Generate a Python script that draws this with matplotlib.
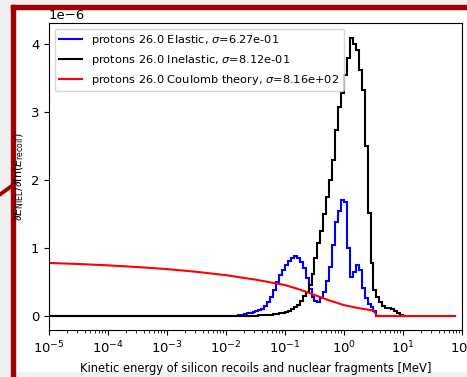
import matplotlib

matplotlib.use("Agg")
import matplotlib.pyplot as plt
import numpy as np
from matplotlib.patches import Polygon, Rectangle

# histogram bins: one zero bin from 1e-5, then 20 bins per decade from 1e-2
log_edges = np.concatenate([[-5.0], -2.0 + np.arange(0, 62) / 20.0])
edges = 10.0 ** log_edges

elastic = [
    0.0,
    0.0, 0.0, 0.0, 0.005, 0.01, 0.02, 0.03, 0.04, 0.05, 0.06,
    0.07, 0.09, 0.11, 0.14, 0.2, 0.28, 0.38, 0.5, 0.6, 0.68,
    0.75, 0.81, 0.86, 0.88, 0.85, 0.8, 0.7, 0.56, 0.4, 0.28,
    0.22, 0.21, 0.26, 0.36, 0.52, 0.72, 1.05, 1.38, 1.55, 1.71,
    1.68, 1.0, 0.57, 0.64, 0.75, 0.68, 0.41, 0.26, 0.18, 0.13,
    0.07, 0.0, 0.0, 0.0, 0.0, 0.0, 0.0, 0.0, 0.0, 0.0,
    0.0,
]
inelastic = [
    0.0,
    0.0, 0.0, 0.0, 0.0, 0.0, 0.0, 0.0, 0.0, 0.002, 0.003,
    0.005, 0.008, 0.01, 0.012, 0.015, 0.02, 0.025, 0.03, 0.04, 0.045,
    0.06, 0.08, 0.1, 0.13, 0.16, 0.22, 0.29, 0.35, 0.45, 0.62,
    0.85, 1.07, 1.25, 1.5, 1.75, 2.0, 2.3, 2.74, 3.08, 3.28,
    3.55, 3.8, 4.09, 4.0, 3.91, 3.62, 3.32, 2.5, 1.51, 0.78,
    0.38, 0.28, 0.21, 0.15, 0.12, 0.12, 0.1, 0.07, 0.05, 0.02,
    0.0,
]

coulomb_log_e = [-5, -4.5, -4, -3.5, -3, -2.5, -2, -1.5, -1, -0.75, -0.5,
                 -0.25, 0, 0.25, 0.5, 0.56, 1.88]
coulomb = [0.78, 0.765, 0.745, 0.72, 0.69, 0.65, 0.60, 0.535, 0.455, 0.39,
           0.31, 0.23, 0.16, 0.115, 0.08, 0.0, 0.0]

labels = [
    r"protons 26.0 Elastic, $\sigma$=6.27e-01",
    r"protons 26.0 Inelastic, $\sigma$=8.12e-01",
    r"protons 26.0 Coulomb theory, $\sigma$=8.16e+02",
]

W, H = 467, 377
fig = plt.figure(figsize=(W / 100, H / 100), dpi=100)
fig.patch.set_facecolor("white")


def px(x, y):
    return x / W, 1 - y / H


# screenshot frame around the chart
gray = "#f0f0f0"
frame = "#a00000"
fig.patches.append(Rectangle(px(0, H), 11 / W, 1, transform=fig.transFigure, color=gray, zorder=-3))
fig.patches.append(Rectangle(px(0, 5), 1, 5 / H, transform=fig.transFigure, color=gray, zorder=-3))
fig.patches.append(Rectangle(px(0, H), 1, 5 / H, transform=fig.transFigure, color=gray, zorder=-3))
fig.patches.append(Rectangle(px(11, H), 4 / W, (H - 5) / H, transform=fig.transFigure, color=frame, zorder=-2))
fig.patches.append(Rectangle(px(11, 9), 1, 4 / H, transform=fig.transFigure, color=frame, zorder=-2))
fig.patches.append(Polygon([px(0, 193), px(11, 185), px(11, 188), px(0, 196)],
                           closed=True, transform=fig.transFigure, color=frame, zorder=-2))

ax = fig.add_axes([49 / W, 1 - 330 / H, (462 - 49) / W, (330 - 23) / H])
scale = 1e-6
ax.stairs(np.array(elastic) * scale, edges, color="blue", linewidth=1.5, label=labels[0])
ax.stairs(np.array(inelastic) * scale, edges, color="black", linewidth=1.5, label=labels[1])
ax.plot(10.0 ** np.array(coulomb_log_e), np.array(coulomb) * scale, color="red",
        linewidth=1.5, label=labels[2])

ax.set_xscale("log")
ax.set_xlim(1e-5, 1e2)
ax.set_ylim(-0.206e-6, 4.31e-6)
ax.set_yticks(np.arange(0, 5) * scale)
ax.tick_params(labelsize=9.5)
ax.yaxis.get_offset_text().set_fontsize(9.5)
ax.set_xlabel("Kinetic energy of silicon recoils and nuclear fragments [MeV]", fontsize=8.3)
ax.set_ylabel(r"$\partial E_{\rm NIEL}/\partial \ln(E_{\rm recoil})$", fontsize=8)
ax.yaxis.set_label_coords(-0.055, 0.5)
ax.legend(loc="upper left", fontsize=8.2)

fig.savefig("out.png", dpi=100)
